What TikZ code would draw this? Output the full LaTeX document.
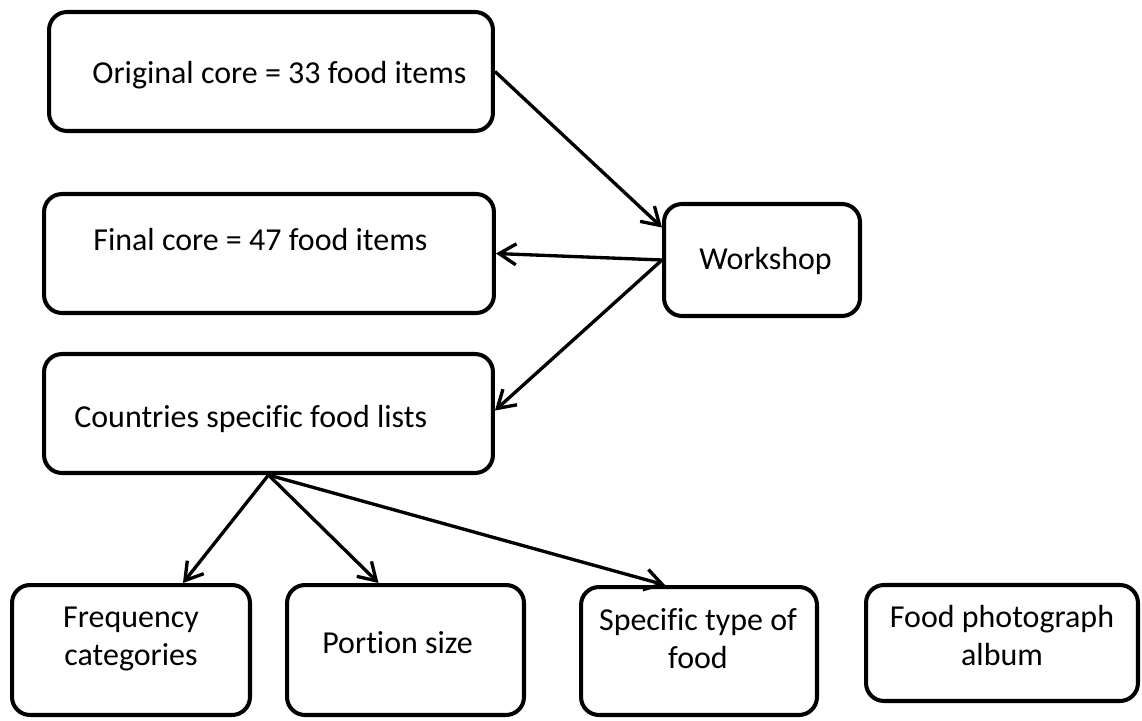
\documentclass[tikz,border=0pt]{standalone}
\usepackage{fontspec}
\setmainfont{Carlito}[Ligatures=CommonOff]
\usetikzlibrary{arrows.meta}
\tikzset{
  stage/.style={draw, line width=2.3pt, rounded corners=0.36cm, inner sep=0pt},
  caption/.style={font=\fontsize{18.2}{21.2}\selectfont, inner sep=0pt, align=center},
  flow/.style={line width=1.9pt, -{Straight Barb[length=0.34cm, width=0.42cm]}}
}
\begin{document}
\begin{tikzpicture}[x=0.02cm,y=-0.02cm]
  \useasboundingbox (0,0) rectangle (1142,720);
  % boxes
  \node[stage, minimum width=8.88cm, minimum height=2.38cm] (orig) at (271,71.5) {};
  \node[stage, minimum width=9.0cm, minimum height=2.38cm] (final) at (269,253.5) {};
  \node[stage, minimum width=3.92cm, minimum height=2.24cm] (workshop) at (762,260) {};
  \node[stage, minimum width=8.98cm, minimum height=2.38cm] (lists) at (268.5,413.5) {};
  \node[stage, minimum width=4.76cm, minimum height=2.6cm] (freq) at (131,650) {};
  \node[stage, minimum width=4.74cm, minimum height=2.6cm] (portion) at (405.5,650) {};
  \node[stage, minimum width=4.72cm, minimum height=2.56cm] (spectype) at (699,651) {};
  \node[stage, minimum width=5.44cm, minimum height=2.32cm] (album) at (1002,643) {};
  % texts
  \node[caption, anchor=base west] (orig-t) at (92,83) {Original core = 33 food items};
  \node[caption, anchor=base west] (final-t) at (93,250) {Final core = 47 food items};
  \node[caption, anchor=base west] (workshop-t) at (699,269) {Workshop};
  \node[caption, anchor=base west] (lists-t) at (74,427) {Countries specific food lists};
  \node[caption, anchor=base] (freq-t) at (131,665) {Frequency\\categories};
  \node[caption, anchor=base west] (portion-t) at (322,653) {Portion size};
  \node[caption, anchor=base] (spectype-t) at (698,668) {Specific type of\\food};
  \node[caption, anchor=base] (album-t) at (1002,665) {Food photograph\\album};
  % connectors
  \draw[flow] (orig.east) -- (workshop.162);
  \draw[flow] (workshop.west) -- (final.east);
  \draw[flow] (workshop.west) -- ([yshift=0.06cm]lists.east);
  \draw[flow] (lists.south) -- ([xshift=1.04cm]freq.north);
  \draw[flow] (lists.south) -- ([xshift=-0.54cm]portion.north);
  \draw[flow] (lists.south) -- ([xshift=-0.68cm]spectype.north);
\end{tikzpicture}
\end{document}
